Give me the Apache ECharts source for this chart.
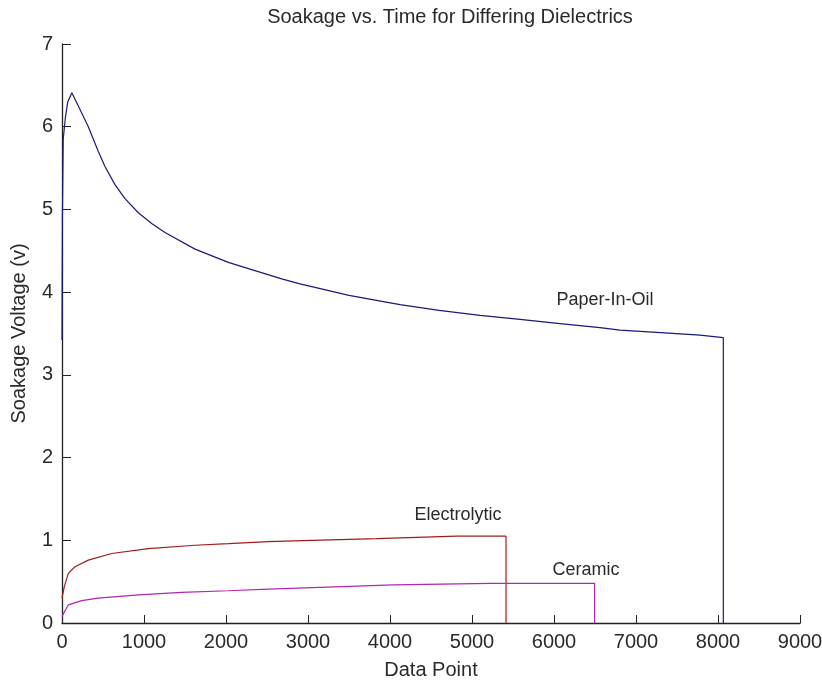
<!DOCTYPE html>
<html style="height: 100%">
<head>
<meta charset="UTF-8">
</head>
<body style="height: 100%; margin: 0; background: #fff">
<div id="container" style="width: 822px; height: 690px"></div>
<script type="text/javascript" src="https://cdn.jsdelivr.net/npm/echarts@6.0.0/dist/echarts.min.js"></script>
<script type="text/javascript">
// [data point, soakage voltage]
var paperInOil = [
    [0, 3.42], [5, 4.9], [15, 5.85], [40, 6.1], [70, 6.3], [120, 6.41],
    [199, 6.25], [321, 6.0], [443, 5.7], [524, 5.52], [646, 5.3], [768, 5.13],
    [931, 4.96], [1094, 4.83], [1256, 4.72], [1622, 4.52], [2028, 4.36],
    [2679, 4.16], [2902, 4.1], [3500, 3.96], [4122, 3.85], [4600, 3.78],
    [5098, 3.72], [5585, 3.67], [6073, 3.62], [6561, 3.57], [6805, 3.54],
    [7300, 3.51], [7780, 3.48], [8065, 3.45], [8065, 0]
];
var electrolytic = [
    [0, 0.3], [28, 0.44], [77, 0.6], [158, 0.68], [321, 0.76], [606, 0.84],
    [1053, 0.9], [1622, 0.94], [2028, 0.96], [2516, 0.985], [3045, 1.0],
    [3837, 1.02], [4813, 1.05], [5415, 1.05], [5415, 0]
];
var ceramic = [
    [0, 0.08], [77, 0.22], [240, 0.27], [443, 0.30], [931, 0.34],
    [1459, 0.37], [2028, 0.39], [2516, 0.41], [3146, 0.43], [4040, 0.46],
    [5220, 0.48], [6495, 0.48], [6495, 0]
];
// in-plot text labels, placed in data coordinates
var seriesNames = ['Paper-In-Oil', 'Electrolytic', 'Ceramic'];
var labelPos = [[6622, 3.9], [4829, 1.31], [6390, 0.64]];
var colors = ['#1a1a7a', '#a01c1c', '#b028b0'];

var myChart = echarts.init(document.getElementById('container'));
var font = 'Liberation Sans, Arial, sans-serif';

function makeSeries(i, data) {
    return {
        name: seriesNames[i],
        type: 'line',
        data: data,
        showSymbol: false,
        symbol: 'none',
        lineStyle: { color: colors[i], width: 1.2 },
        animation: false,
        markPoint: {
            symbol: 'rect',
            symbolSize: 0,
            data: [{ coord: labelPos[i] }],
            label: {
                show: true,
                formatter: seriesNames[i],
                color: '#2a2a2a',
                fontFamily: font,
                fontSize: 18,
                position: 'inside'
            }
        }
    };
}

var option = {
    backgroundColor: '#fff',
    title: {
        text: 'Soakage vs. Time for Differing Dielectrics',
        left: 445,
        textAlign: 'center',
        top: 2,
        textStyle: { fontFamily: font, fontSize: 20, fontWeight: 'normal', color: '#2a2a2a' }
    },
    grid: { left: 62, right: 22, top: 44, bottom: 67, outerBoundsMode: 'none' },
    xAxis: {
        type: 'value',
        min: 0, max: 9000, interval: 1000,
        name: 'Data Point',
        nameLocation: 'middle',
        nameGap: 37,
        nameTextStyle: { fontFamily: font, fontSize: 20, color: '#2a2a2a' },
        axisLine: { show: true, lineStyle: { color: '#222', width: 1.3 } },
        axisTick: { show: true, inside: true, length: 8, lineStyle: { color: '#222' } },
        axisLabel: {
            fontFamily: font, fontSize: 20, color: '#2a2a2a', margin: 9,
            formatter: function (v) { return String(v); }
        },
        splitLine: { show: false }
    },
    yAxis: {
        type: 'value',
        min: 0, max: 7, interval: 1,
        name: 'Soakage Voltage (v)',
        nameLocation: 'middle',
        nameGap: 33,
        nameTextStyle: { fontFamily: font, fontSize: 20, color: '#2a2a2a' },
        axisLine: { show: true, lineStyle: { color: '#222', width: 1.3 } },
        axisTick: { show: true, inside: true, length: 9, lineStyle: { color: '#222' } },
        axisLabel: { fontFamily: font, fontSize: 20, color: '#2a2a2a', margin: 9 },
        splitLine: { show: false }
    },
    series: [
        makeSeries(0, paperInOil),
        makeSeries(1, electrolytic),
        makeSeries(2, ceramic)
    ]
};
myChart.setOption(option);
</script>
</body>
</html>
